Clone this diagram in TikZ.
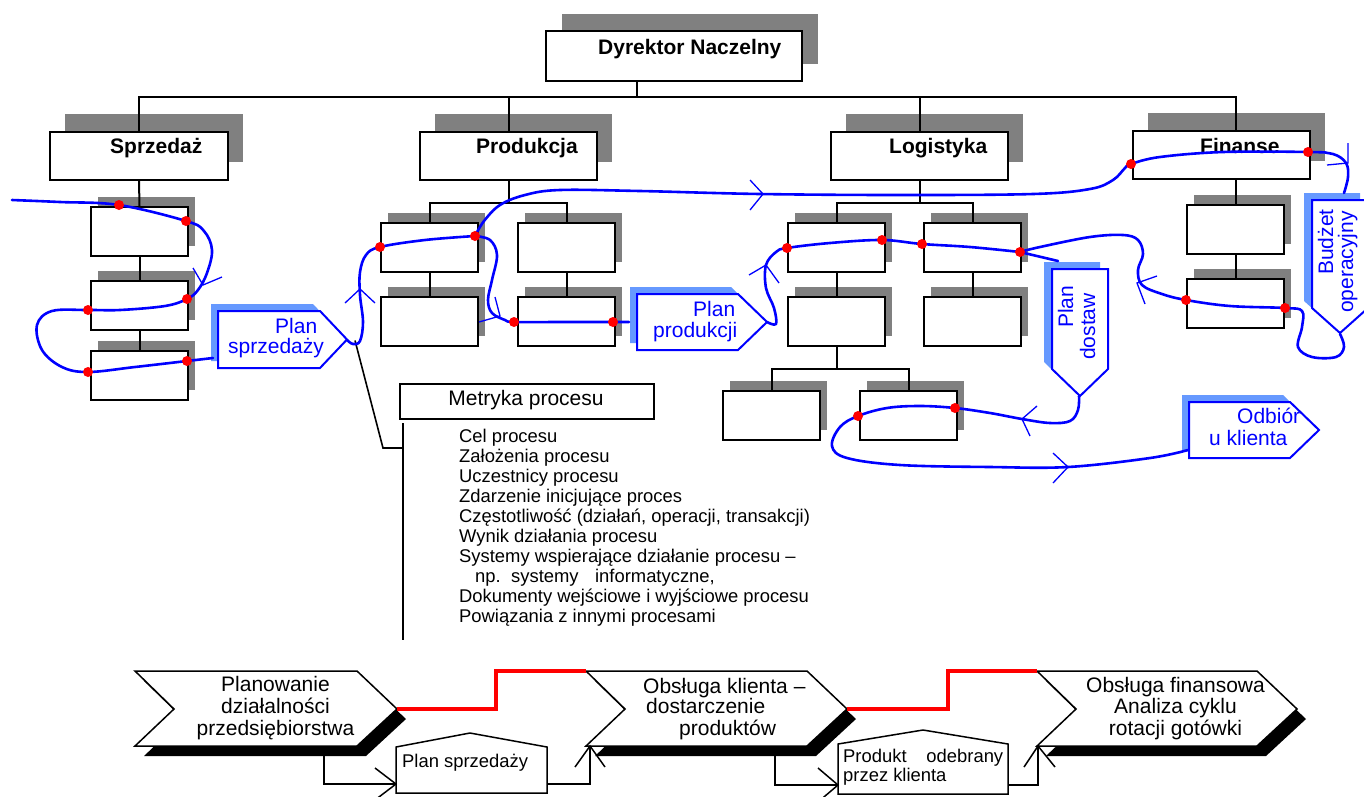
\documentclass[tikz,border=0pt]{standalone}
\usepackage{fontspec}
\setmainfont{Liberation Sans}
\usetikzlibrary{calc}
\definecolor{shd}{HTML}{808080}
\definecolor{lblue}{HTML}{6699FF}
\definecolor{bl}{HTML}{0000FF}
\definecolor{rd}{HTML}{FF0000}
\tikzset{
  obox/.style={draw=black, line width=2pt, fill=white, inner sep=0pt, anchor=north west},
  conn/.style={draw=black, line width=2pt},
  thin/.style={draw=black, line width=1.6pt},
  flow/.style={draw=bl, line width=2.6pt, line join=round, line cap=round},
  vhead/.style={draw=bl, line width=1.3pt},
  khead/.style={draw=black, line width=1.5pt},
  rdot/.style={circle, fill=rd, inner sep=0pt, minimum size=10pt},
  redl/.style={draw=rd, line width=4pt},
  ttl/.style={font=\fontsize{21}{24}\selectfont\bfseries, anchor=base west, inner sep=0pt},
  lbl/.style={font=\fontsize{21}{24}\selectfont, inner sep=0pt},
  blbl/.style={font=\fontsize{21}{24}\selectfont, text=bl, inner sep=0pt, anchor=base west},
  sml/.style={font=\fontsize{18.4}{20}\selectfont, inner sep=0pt, anchor=base west},
}
\newcommand{\obx}[7]{%
  \fill[shd] ({#2+#6},{#3+#7}) rectangle ++(#4,#5);
  \node[obox, minimum width=#4pt, minimum height=#5pt] (#1) at (#2,#3) {};
}
\newcommand{\hpent}[6]{%
  \fill[lblue] ({#2-7},{#3-7}) -- ({#4-7},{#3-7}) -- ({#5-7},{(#3+#6)/2-7}) -- ({#4-7},{#6-7}) -- ({#2-7},{#6-7}) -- cycle;
  \draw[bl, line width=2pt, fill=white] (#2,#3) -- (#4,#3) -- (#5,{(#3+#6)/2}) coordinate (#1tip) -- (#4,#6) -- (#2,#6) -- cycle;
}
\newcommand{\vpent}[6]{%
  \fill[lblue] ({#2-8},{#3-7}) -- ({#4-8},{#3-7}) -- ({#4-8},{#5-7}) -- ({(#2+#4)/2-8},{#6-7}) -- ({#2-8},{#5-7}) -- cycle;
  \draw[bl, line width=2pt, fill=white] (#2,#3) -- (#4,#3) -- (#4,#5) -- ({(#2+#4)/2},#6) coordinate (#1tip) -- (#2,#5) -- cycle;
}
\newcommand{\chev}[3]{%
  \fill[black] ({#2+9},681) -- ({#3+9},681) -- ({#3+49},719) -- ({#3+9},756) -- ({#2+9},756) -- ({#2+48},719) -- cycle;
  \draw[line width=1.5pt, fill=white] (#2,671) coordinate (#1tl) -- (#3,671) -- ({#3+40},709) coordinate (#1tip) -- (#3,746) -- (#2,746) -- ({#2+39},709) -- cycle;
}
\begin{document}
\begin{tikzpicture}[x=1pt,y=-1pt]
\useasboundingbox (0,0) rectangle (1364,796);
\clip (0,0) rectangle (1364,796);

% ---------- org chart boxes
\obx{dir}{545}{30}{256}{50}{17}{-16}
\obx{spr}{49}{131}{178}{48}{16}{-17}
\obx{prod}{419}{131}{177}{48}{16}{-17}
\obx{log}{830}{131}{177}{48}{16}{-17}
\obx{fin}{1132}{130}{177}{48}{16}{-17}

\obx{s1}{90}{206}{97}{49}{8}{-9}
\obx{s2}{90}{280}{97}{49}{8}{-9}
\obx{s3}{90}{350}{97}{49}{8}{-9}
\obx{p1}{380}{222}{97}{49}{8}{-9}
\obx{p2}{517}{222}{97}{49}{8}{-9}
\obx{p3}{380}{296}{97}{49}{8}{-9}
\obx{p4}{517}{296}{97}{49}{8}{-9}
\obx{l1}{787}{222}{97}{49}{8}{-9}
\obx{l2}{923}{222}{97}{49}{8}{-9}
\obx{l3}{787}{296}{97}{49}{8}{-9}
\obx{l4}{923}{296}{97}{49}{8}{-9}
\obx{l5}{722}{390}{97}{49}{8}{-9}
\obx{l6}{859}{390}{97}{49}{8}{-9}
\obx{f1}{1186}{204}{97}{49}{8}{-9}
\obx{f2}{1186}{278}{97}{49}{8}{-9}

\node[ttl] (tdir) at (598,54) {Dyrektor Naczelny};
\node[ttl] (tspr) at (110,153) {Sprzedaż};
\node[ttl] (tprod) at (476,153) {Produkcja};
\node[ttl] (tlog) at (889,153) {Logistyka};
\node[ttl] (tfin) at (1200,153) {Finanse};

% ---------- org connectors
\coordinate (dj) at (637,97);
\draw[conn] (dj |- dir.south) -- (dj);
\draw[conn] (spr.north) |- (dj);
\draw[conn] (dj) -| (f1.north |- fin.north);
\draw[conn] (prod.north) -- (prod.north |- dj);
\draw[conn] (log.north) -- (log.north |- dj);
\draw[conn] (spr.south) -- (s1.north);
\draw[conn] (s1.south) -- (s2.north);
\draw[conn] (s2.south) -- (s3.north);
\coordinate (pj) at ($(prod.south)+(0,22)$);
\draw[conn] (prod.south) -- (pj);
\draw[conn] (p1.north) |- (pj) -| (p2.north);
\draw[conn] (p1.south) -- (p3.north);
\draw[conn] (p2.south) -- (p4.north);
\coordinate (lj) at ($(log.south)+(0,22)$);
\draw[conn] (log.south) -- (lj);
\draw[conn] (l1.north) |- (lj) -| (l2.north);
\draw[conn] (l1.south) -- (l3.north);
\draw[conn] (l2.south) -- (l4.north);
\coordinate (lk) at ($(l3.south)+(0,22)$);
\draw[conn] (l3.south) -- (lk);
\draw[conn] (l5.north) |- (lk) -| (l6.north);
\draw[conn] (f1.north |- fin.south) -- (f1.north);
\draw[conn] (f1.south) -- (f2.north);

% ---------- blue labelled arrows
\hpent{ps}{218}{311}{320}{347}{368}
\hpent{pp}{637}{294}{738}{767}{350}
\hpent{ok}{1189}{402}{1290}{1319}{458}
\vpent{pd}{1052}{269}{1108}{369}{396}
\vpent{bo}{1312}{200}{1368}{308}{333}

\node[blbl] (tps1) at (275,333) {Plan};
\node[blbl] (tps2) at (228,353) {sprzedaży};
\node[blbl] (tpp1) at (693,316) {Plan};
\node[blbl] (tpp2) at (653,337) {produkcji};
\node[blbl] (tok1) at (1237,423) {Odbiór};
\node[blbl] (tok2) at (1209,445) {u klienta};
\node[blbl, rotate=90] (tpd1) at (1073,328) {Plan};
\node[blbl, rotate=90] (tpd2) at (1095,360) {dostaw};
\node[blbl, rotate=90] (tbo1) at (1333,275) {Budżet};
\node[blbl, rotate=90] (tbo2) at (1353,313) {operacyjny};

% ---------- Metryka procesu
\node[obox, minimum width=254pt, minimum height=35pt] (met) at (399,383) {};
\node[lbl, anchor=base] (tmet) at (526,405) {Metryka procesu};
\coordinate (mk) at ($(pstip)+(8,1)$);
\coordinate (mc) at (383,448);
\coordinate (mt) at (403,423);
\coordinate (mb) at (403,640);
\draw[thin] (mk) -- (mc) -- (mc -| mt);
\draw[thin] (mt) -- (mb);
\node[sml] (m1) at (459,442.0) {Cel procesu};
\node[sml] (m2) at (459,462.1) {Założenia procesu};
\node[sml] (m3) at (459,482.2) {Uczestnicy procesu};
\node[sml] (m4) at (459,502.3) {Zdarzenie inicjujące proces};
\node[sml] (m5) at (459,522.4) {Częstotliwość (działań, operacji, transakcji)};
\node[sml] (m6) at (459,542.5) {Wynik działania procesu};
\node[sml] (m7) at (459,562.6) {Systemy wspierające działanie procesu –};
\node[sml] (m8) at (475,582.7) {np.\hspace{10.4pt}systemy\hspace{16.5pt}informatyczne,};
\node[sml] (m9) at (459,602.8) {Dokumenty wejściowe i wyjściowe procesu};
\node[sml] (m10) at (459,622.9) {Powiązania z innymi procesami};

% ---------- blue flow curves
\draw[flow] plot[smooth, tension=0.6] coordinates {(12,200) (60,202) (119,205) (186,221) (204,231) (212,250) (207,273) (198,290) (187,299) (165,306) (120,310) (88,310) (52,311) (37,325) (42,350) (62,367) (88,372) (135,367) (187,361) (213,358)};
\draw[flow] plot[smooth, tension=0.6] coordinates {(347,340) (353,344) (360,341) (363,322) (360,295) (360,272) (366,255) (380,247) (425,240) (475,236)};
\draw[flow] plot[smooth, tension=0.6] coordinates {(475,236) (484,221) (500,205) (525,195) (560,190) (640,191) (760,194) (900,195) (1033,194) (1090,189) (1113,180) (1125,168) (1131,164) (1160,157) (1223,152) (1308,152) (1333,154) (1346,163) (1348,177) (1344,193)};
\draw[flow] plot[smooth, tension=0.6] coordinates {(475,236) (490,240) (497,255) (492,280) (488,300) (492,313) (505,320) (514,322) (560,322) (613,322) (629,322)};
\draw[flow] plot[smooth, tension=0.6] coordinates {(767,322) (776,324) (774,308) (766,288) (766,265) (776,252) (787,248) (830,243) (882,240) (922,244) (970,247) (1020,252)};
\draw[flow] plot[smooth, tension=0.6] coordinates {(1020,252) (1040,247) (1090,237) (1123,235) (1138,240) (1143,254) (1138,270) (1142,285) (1162,294) (1186,300) (1230,306) (1285,308) (1302,311) (1302,327) (1298,347) (1312,357) (1336,357) (1344,347) (1340,334)};
\draw[flow] (1020,252) -- (1058,261);
\draw[flow] plot[smooth, tension=0.6] coordinates {(1079,396) (1078,410) (1070,421) (1050,423) (1022,419) (990,413) (955,408) (920,406) (887,408) (858,416) (840,427) (832,446) (847,458) (900,465) (990,467) (1068,467) (1150,458) (1188,450)};

% open arrowheads on the flow
\draw[vhead] (193,268) -- (203,285) -- (222,277);
\draw[vhead] (345,303) -- (360,289) -- (375,303);
\draw[vhead] (495,297) -- (500,316) -- (479,322);
\draw[vhead] (750,180) -- (763,194) -- (750,210);
\draw[vhead] (749,275) -- (766,265) -- (779,283);
\draw[vhead] (1348,143) -- (1348,163) -- (1327,165);
\draw[vhead] (1157,276) -- (1137,283) -- (1145,304);
\draw[vhead] (1037,406) -- (1022,419) -- (1030,436);
\draw[vhead] (1053,453) -- (1068,467) -- (1053,483);

% red dots
\node[rdot] (d1) at (119,205) {};
\node[rdot] (d2) at (186,221) {};
\node[rdot] (d3) at (187,299) {};
\node[rdot] (d4) at (88,310) {};
\node[rdot] (d5) at (88,372) {};
\node[rdot] (d6) at (187,361) {};
\node[rdot] (d7) at (380,247) {};
\node[rdot] (d8) at (475,236) {};
\node[rdot] (d9) at (514,322) {};
\node[rdot] (d10) at (613,322) {};
\node[rdot] (d11) at (787,248) {};
\node[rdot] (d12) at (882,240) {};
\node[rdot] (d13) at (922,244) {};
\node[rdot] (d14) at (1020,252) {};
\node[rdot] (d15) at (858,416) {};
\node[rdot] (d16) at (955,408) {};
\node[rdot] (d17) at (1131,164) {};
\node[rdot] (d18) at (1308,152) {};
\node[rdot] (d19) at (1186,300) {};
\node[rdot] (d20) at (1285,308) {};

% ---------- bottom process chain
\coordinate (b1in) at (396,784);
\coordinate (b1out) at (547,784);
\coordinate (b2in) at (838,785);
\coordinate (b2out) at (1008,785);
\draw[khead] (324,746) |- (b1in);
\draw[khead] (b1out) -| (590,746);
\draw[khead] (775,746) |- (b2in);
\draw[khead] (b2out) -| (1038,746);

\chev{ca}{135}{357}
\chev{cb}{586}{807}
\chev{cc}{1037}{1257}

\draw[redl] (catip) -- ++(99,0) |- (cbtl);
\draw[redl] (cbtip) -- ++(101,0) |- (cctl);

\draw[line width=1.5pt, fill=white] (396,793) -- (396,747) -- (470,733) -- (547,747) -- (547,793) -- cycle;
\draw[line width=1.5pt, fill=white] (838,794) -- (838,744) -- (923,730) -- (1008,744) -- (1008,794) -- cycle;

\draw[khead] (375,768) -- (b1in) -- (375,800);
\draw[khead] (575,767) -- (590,746) -- (605,767);
\draw[khead] (818,768) -- (b2in) -- (818,802);
\draw[khead] (1024,767) -- (1038,746) -- (1055,767);

\node[lbl, anchor=base] (ca1) at (275.5,691) {Planowanie};
\node[lbl, anchor=base] (ca2) at (275.5,713) {działalności};
\node[lbl, anchor=base] (ca3) at (275.5,735) {przedsiębiorstwa};
\node[lbl, anchor=base west] (cb1) at (643,693) {Obsługa klienta –};
\node[lbl, anchor=base west] (cb2) at (646,713) {dostarczenie};
\node[lbl, anchor=base west] (cb3) at (679,735) {produktów};
\node[lbl, anchor=base] (cc1) at (1175.5,692) {Obsługa finansowa};
\node[lbl, anchor=base] (cc2) at (1175.5,713) {Analiza cyklu};
\node[lbl, anchor=base] (cc3) at (1175.5,735) {rotacji gotówki};

\node[sml] (tb1) at (402,767) {Plan sprzedaży};
\node[sml] (tb2a) at (843,762) {\makebox[160pt][s]{Produkt odebrany}};
\node[sml] (tb2b) at (843,781) {przez klienta};
\end{tikzpicture}
\end{document}
